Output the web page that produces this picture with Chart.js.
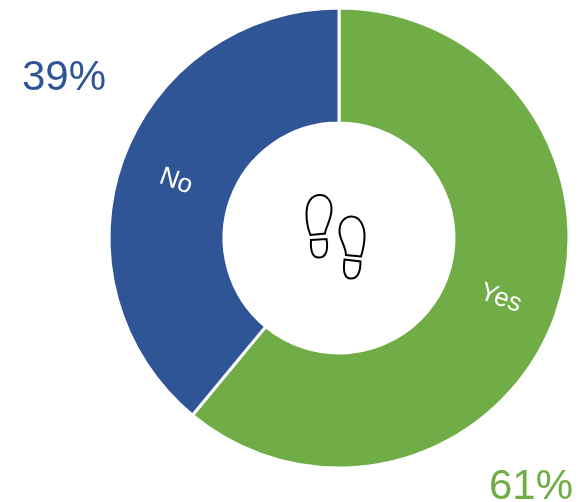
<!DOCTYPE html>
<html>
<head>
<meta charset="utf-8">
<title>Yes / No</title>
<script src="https://cdn.jsdelivr.net/npm/chart.js@4/dist/chart.umd.min.js"></script>
<style>
  html, body { margin: 0; padding: 0; background: #fff; }
  canvas { display: block; }
</style>
</head>
<body>
<canvas id="graph-answers" width="579" height="502"></canvas>
<script>
const categories = ['Yes', 'No'];
const percentages = [61, 39];
const colors = ['#70AD47', '#2F5597'];

// Where the big percentage captions sit, same order as categories
const captionSpots = [{x: 489, y: 499}, {x: 22, y: 90}];

// Outlines of the two shoe prints in the hole of the ring
const footprints = [
  'M320 195 C311 195 306.5 203 306.5 214 C306.5 222 308 229 310.5 235 L325 233.5 C325.5 227 331.5 220 331.5 209 C331.5 201 327 195 320 195 Z',
  'M311 240 L326.5 239 C328 248 327 257 319.5 257.5 C311.5 258 310.5 249 311 240 Z',
  'M351.5 216.5 C344 216.5 339.5 223 339.5 231 C339.5 240 345.5 245 346 255 L361 256.5 C363 250 364.5 244 364.5 236 C364.5 226 360 216.5 351.5 216.5 Z',
  'M344.5 259.5 L360.5 261.5 C360.5 270 358.5 278.5 351 278.5 C343 278.5 343.5 268 344.5 259.5 Z'
];

const ringText = {
  id: 'ringText',
  afterDatasetsDraw(chart) {
    const ctx = chart.ctx;
    const arcs = chart.getDatasetMeta(0).data;

    // category names follow the ring, turned with the middle of their slice
    arcs.forEach((arc, i) => {
      const p = arc.getProps(['startAngle', 'endAngle', 'innerRadius', 'outerRadius', 'x', 'y']);
      const mid = (p.startAngle + p.endAngle) / 2;
      const r = (p.innerRadius + p.outerRadius) / 2;
      ctx.save();
      ctx.translate(p.x + Math.cos(mid) * r, p.y + Math.sin(mid) * r);
      ctx.rotate(mid > Math.PI / 2 ? mid - Math.PI : mid);
      ctx.fillStyle = '#fff';
      ctx.font = '26px "Liberation Sans"';
      ctx.textAlign = 'center';
      ctx.textBaseline = 'middle';
      ctx.fillText(categories[i], 0, 2);
      ctx.restore();
    });

    ctx.save();
    ctx.font = '42px "Liberation Sans"';
    ctx.textBaseline = 'alphabetic';
    percentages.forEach((value, i) => {
      ctx.fillStyle = colors[i];
      ctx.fillText(value + '%', captionSpots[i].x, captionSpots[i].y);
    });
    ctx.restore();

    ctx.save();
    ctx.strokeStyle = '#000';
    ctx.lineWidth = 2;
    footprints.forEach((d) => ctx.stroke(new Path2D(d)));
    ctx.restore();
  }
};

new Chart(document.getElementById('graph-answers'), {
  type: 'doughnut',
  data: {
    labels: categories,
    datasets: [{
      data: percentages,
      backgroundColor: colors,
      borderColor: '#fff',
      borderWidth: 3,
      borderAlign: 'center'
    }]
  },
  options: {
    responsive: false,
    animation: false,
    cutout: '50%',
    layout: {
      padding: {left: 107.5, right: 8.5, top: 6.5, bottom: 32.5}
    },
    plugins: {
      legend: {display: false},
      tooltip: {enabled: false}
    }
  },
  plugins: [ringText]
});
</script>
</body>
</html>
